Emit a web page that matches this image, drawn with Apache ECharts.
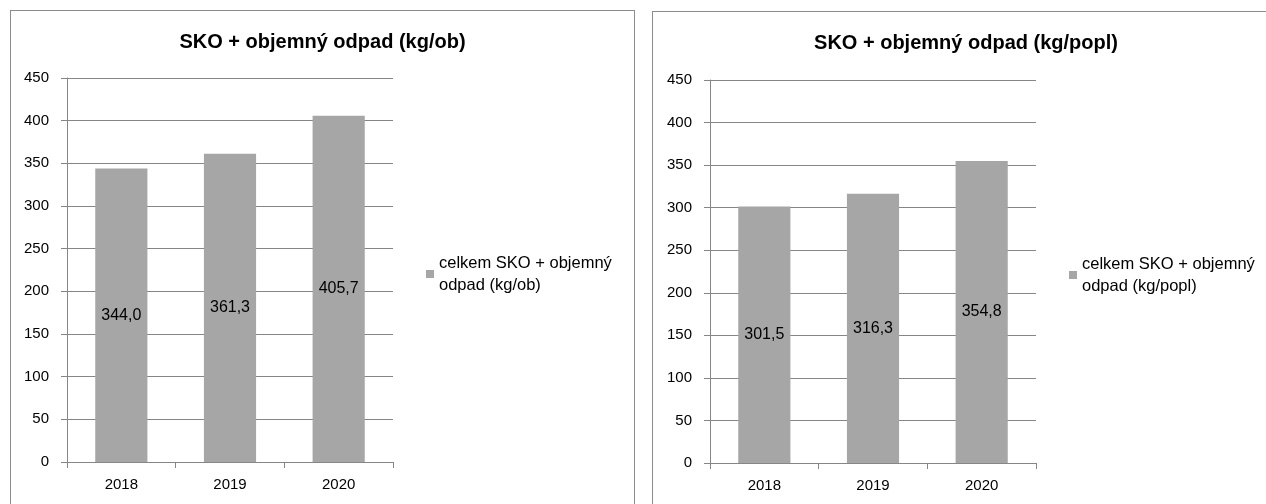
<!DOCTYPE html>
<html>
<head>
<meta charset="utf-8">
<script src="https://cdn.jsdelivr.net/npm/echarts@6/dist/echarts.min.js"></script>
<style>
  html, body { margin: 0; padding: 0; background: #fff; overflow: hidden; width: 1266px; height: 504px; }
  .panel { position: absolute; border: 1px solid #8c8c8c; background: #fff; }
</style>
</head>
<body>
<div id="chartOb" class="panel" style="left:10px; top:10px; width:623px; height:510px"></div>
<div id="chartPopl" class="panel" style="left:652px; top:11px; width:626px; height:510px"></div>

<script>
const years = ['2018', '2019', '2020']
const valuesOb = [344.0, 361.3, 405.7]
const valuesPopl = [301.5, 316.3, 354.8]
const titleOb = 'SKO + objemný odpad (kg/ob)'
const titlePopl = 'SKO + objemný odpad (kg/popl)'
const seriesOb = 'celkem SKO + objemný\nodpad (kg/ob)'
const seriesPopl = 'celkem SKO + objemný\nodpad (kg/popl)'

const FONT = 'Liberation Sans, Arial, sans-serif'
const GRID_COLOR = '#868686'
const BAR_COLOR = '#a6a6a6'

const makeChart = (el, title, seriesName, values, grid, legendLeft) => {
  const chart = echarts.init(el, null, { renderer: 'canvas' })
  const option = {
    animation: false,
    backgroundColor: '#fff',
    textStyle: { fontFamily: FONT },
    title: {
      text: title,
      left: 'center',
      top: 16,
      textStyle: {
        color: '#000',
        fontFamily: FONT,
        fontWeight: 'bold',
        fontSize: 20
      }
    },
    legend: {
      left: legendLeft,
      top: 230,
      padding: 0,
      icon: 'rect',
      itemWidth: 8,
      itemHeight: 8,
      selectedMode: false,
      textStyle: {
        color: '#000',
        fontFamily: FONT,
        fontSize: 16.5,
        lineHeight: 22,
        padding: [22, 0, 0, 0]
      },
      data: [seriesName]
    },
    grid: grid,
    xAxis: {
      type: 'category',
      data: years,
      axisLine: { lineStyle: { color: GRID_COLOR, width: 1 } },
      axisTick: { show: true, length: 6, lineStyle: { color: GRID_COLOR } },
      axisLabel: { color: '#000', fontSize: 15, fontFamily: FONT, margin: 15 }
    },
    yAxis: {
      type: 'value',
      min: 0,
      max: 450,
      interval: 50,
      axisLine: { show: true, lineStyle: { color: GRID_COLOR, width: 1 } },
      axisTick: { show: true, length: 6, lineStyle: { color: GRID_COLOR } },
      axisLabel: { color: '#000', fontSize: 15, fontFamily: FONT, margin: 18 },
      splitLine: { show: true, lineStyle: { color: GRID_COLOR, width: 1 } }
    },
    series: [{
      name: seriesName,
      type: 'bar',
      data: values,
      barWidth: '48%',
      itemStyle: { color: BAR_COLOR },
      label: {
        show: true,
        position: 'inside',
        color: '#000',
        fontFamily: FONT,
        fontSize: 16,
        formatter: p => p.value.toFixed(1).replace('.', ',')
      }
    }]
  }
  chart.setOption(option)
  return chart
}

makeChart(document.getElementById('chartOb'), titleOb, seriesOb, valuesOb,
  { left: 56, top: 67, width: 326, height: 384 }, 415)
makeChart(document.getElementById('chartPopl'), titlePopl, seriesPopl, valuesPopl,
  { left: 57, top: 68, width: 326, height: 383 }, 416)
</script>
</body>
</html>
